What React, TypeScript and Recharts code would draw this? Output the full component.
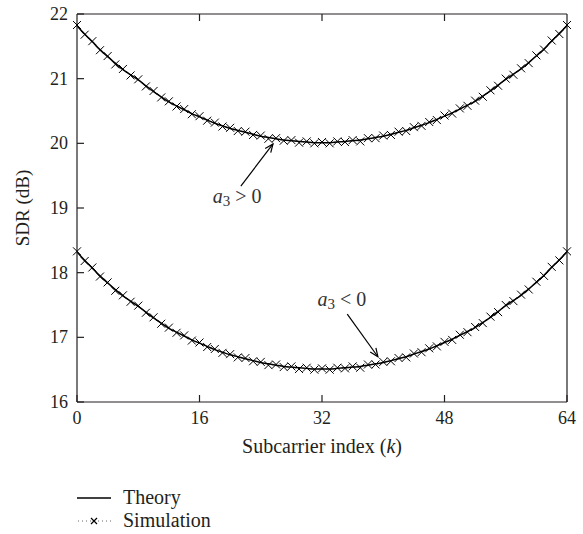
import React from "react";
import {
  Legend,
  Line,
  LineChart,
  ReferenceDot,
  ReferenceLine,
  XAxis,
  YAxis,
} from "recharts";

// subcarrier index k
const subcarriers = [
  0, 1, 2, 3, 4, 5, 6, 7, 8, 9, 10, 11, 12, 13, 14, 15, 16, 17, 18, 19, 20, 21,
  22, 23, 24, 25, 26, 27, 28, 29, 30, 31, 32, 33, 34, 35, 36, 37, 38, 39, 40, 41,
  42, 43, 44, 45, 46, 47, 48, 49, 50, 51, 52, 53, 54, 55, 56, 57, 58, 59, 60, 61,
  62, 63, 64,
];

// a3 > 0 curve
const upperTheory = [
  21.82, 21.69, 21.57, 21.45, 21.34, 21.24, 21.14, 21.06, 20.98, 20.89,
  20.8, 20.72, 20.64, 20.58, 20.52, 20.46, 20.41, 20.36, 20.31, 20.27,
  20.23, 20.2, 20.17, 20.14, 20.11, 20.09, 20.07, 20.05, 20.04, 20.03,
  20.02, 20.01, 20.01, 20.01, 20.02, 20.03, 20.04, 20.05, 20.07, 20.09,
  20.11, 20.14, 20.17, 20.2, 20.24, 20.28, 20.32, 20.37, 20.42, 20.47,
  20.53, 20.59, 20.65, 20.73, 20.81, 20.9, 20.99, 21.07, 21.15, 21.25,
  21.35, 21.46, 21.58, 21.7, 21.82,
];
const upperSim = [
  21.83, 21.68, 21.58, 21.44, 21.35, 21.22, 21.15, 21.05, 20.99, 20.88,
  20.81, 20.71, 20.65, 20.57, 20.53, 20.45, 20.42, 20.35, 20.32, 20.26,
  20.24, 20.19, 20.18, 20.13, 20.12, 20.07, 20.08, 20.04, 20.05, 20.01,
  20.03, 20.0, 20.02, 20.0, 20.03, 20.02, 20.05, 20.03, 20.08, 20.08,
  20.12, 20.13, 20.18, 20.19, 20.25, 20.27, 20.33, 20.36, 20.43, 20.46,
  20.54, 20.58, 20.66, 20.72, 20.82, 20.89, 21.0, 21.06, 21.16, 21.24,
  21.36, 21.45, 21.59, 21.69, 21.83,
];

// a3 < 0 curve
const lowerTheory = [
  18.32, 18.19, 18.07, 17.95, 17.84, 17.74, 17.64, 17.56, 17.48, 17.39,
  17.3, 17.22, 17.14, 17.08, 17.02, 16.96, 16.91, 16.86, 16.81, 16.77,
  16.73, 16.7, 16.67, 16.64, 16.61, 16.59, 16.57, 16.55, 16.54, 16.53,
  16.52, 16.51, 16.51, 16.51, 16.52, 16.53, 16.54, 16.55, 16.57, 16.59,
  16.61, 16.64, 16.67, 16.7, 16.74, 16.78, 16.82, 16.87, 16.92, 16.97,
  17.03, 17.09, 17.15, 17.23, 17.31, 17.4, 17.49, 17.57, 17.65, 17.75,
  17.85, 17.96, 18.08, 18.2, 18.32,
];
const lowerSim = [
  18.33, 18.18, 18.08, 17.94, 17.85, 17.72, 17.65, 17.55, 17.49, 17.38,
  17.31, 17.21, 17.15, 17.07, 17.03, 16.95, 16.92, 16.85, 16.82, 16.76,
  16.74, 16.69, 16.68, 16.63, 16.62, 16.57, 16.58, 16.54, 16.55, 16.51,
  16.53, 16.5, 16.52, 16.5, 16.53, 16.52, 16.55, 16.53, 16.58, 16.58,
  16.62, 16.63, 16.68, 16.69, 16.75, 16.77, 16.83, 16.86, 16.93, 16.96,
  17.04, 17.08, 17.16, 17.22, 17.32, 17.39, 17.5, 17.56, 17.66, 17.74,
  17.86, 17.95, 18.09, 18.19, 18.33,
];

const xTicks = [0, 16, 32, 48, 64];
const yTicks = [16, 17, 18, 19, 20, 21, 22];
const seriesNames = ["Theory", "Simulation"];

const chartData = subcarriers.map((k, i) => ({
  k,
  upperTheory: upperTheory[i],
  upperSim: upperSim[i],
  lowerTheory: lowerTheory[i],
  lowerSim: lowerSim[i],
}));

const FONT = "'Liberation Serif', 'DejaVu Serif', serif";
const INK = "#231f20";
const TICK_LEN = 7;

const BottomTick = (props: any) => {
  const { x, y, payload } = props;
  return (
    <g>
      <line x1={x} y1={y} x2={x} y2={y - TICK_LEN} stroke={INK} strokeWidth={1.2} />
      <text x={x} y={y + 22} textAnchor="middle" fontSize={18} fill={INK} fontFamily={FONT}>
        {payload.value}
      </text>
    </g>
  );
};

const TopTick = (props: any) => {
  const { x, y } = props;
  return <line x1={x} y1={y} x2={x} y2={y + TICK_LEN} stroke={INK} strokeWidth={1.2} />;
};

const LeftTick = (props: any) => {
  const { x, y, payload } = props;
  return (
    <g>
      <line x1={x} y1={y} x2={x + TICK_LEN} y2={y} stroke={INK} strokeWidth={1.2} />
      <text x={x - 9} y={y + 6} textAnchor="end" fontSize={18} fill={INK} fontFamily={FONT}>
        {payload.value}
      </text>
    </g>
  );
};

const RightTick = (props: any) => {
  const { x, y } = props;
  return <line x1={x} y1={y} x2={x - TICK_LEN} y2={y} stroke={INK} strokeWidth={1.2} />;
};

const CrossDot = (props: any) => {
  const { cx, cy, index } = props;
  if (cx == null || cy == null) return <g key={index} />;
  const s = 4;
  return (
    <path
      key={index}
      d={`M${cx - s},${cy - s}L${cx + s},${cy + s}M${cx - s},${cy + s}L${cx + s},${cy - s}`}
      stroke="#000"
      strokeWidth={1}
      fill="none"
    />
  );
};

const ArrowShape = (props: any) => {
  const { x1, y1, x2, y2 } = props;
  const ang = Math.atan2(y2 - y1, x2 - x1);
  const len = 9;
  const spread = 0.4;
  const ax = x2 - len * Math.cos(ang - spread);
  const ay = y2 - len * Math.sin(ang - spread);
  const bx = x2 - len * Math.cos(ang + spread);
  const by = y2 - len * Math.sin(ang + spread);
  return (
    <g>
      <line x1={x1} y1={y1} x2={x2} y2={y2} stroke="#000" strokeWidth={1.2} />
      <path d={`M${ax},${ay}L${x2},${y2}L${bx},${by}`} stroke="#000" strokeWidth={1.2} fill="none" />
    </g>
  );
};

const annotation = (sign: string) => (props: any) => {
  const { cx, cy } = props;
  return (
    <text x={cx} y={cy + 6} textAnchor="middle" fontSize={20} fill="#333" fontFamily={FONT}>
      <tspan fontStyle="italic">a</tspan>
      <tspan fontSize={15} dy={3}>3</tspan>
      <tspan dy={-3}>{` ${sign} 0`}</tspan>
    </text>
  );
};

const XTitle = (props: any) => {
  const { viewBox } = props;
  return (
    <text
      x={viewBox.x + viewBox.width / 2}
      y={viewBox.y + 51}
      textAnchor="middle"
      fontSize={20}
      fill={INK}
      fontFamily={FONT}
    >
      Subcarrier index (<tspan fontStyle="italic">k</tspan>)
    </text>
  );
};

const YTitle = (props: any) => {
  const { viewBox } = props;
  const cx = 22;
  const cy = viewBox.y + viewBox.height / 2;
  return (
    <text
      x={cx}
      y={cy}
      transform={`rotate(-90, ${cx}, ${cy})`}
      textAnchor="middle"
      dominantBaseline="central"
      fontSize={19}
      fill={INK}
      fontFamily={FONT}
    >
      SDR (dB)
    </text>
  );
};

const LegendBox = () => (
  <div style={{ fontFamily: FONT, fontSize: 20, color: INK, lineHeight: "23px" }}>
    <div style={{ display: "flex", alignItems: "center", height: 23 }}>
      <svg width={34} height={23}>
        <line x1={0} y1={12} x2={34} y2={12} stroke="#000" strokeWidth={1.3} />
      </svg>
      <span style={{ marginLeft: 12 }}>{seriesNames[0]}</span>
    </div>
    <div style={{ display: "flex", alignItems: "center", height: 23 }}>
      <svg width={34} height={23}>
        <line x1={1} y1={12} x2={34} y2={12} stroke="#666" strokeWidth={1.2} strokeDasharray="1 3" />
        <path d="M14,9L20,15M14,15L20,9" stroke="#000" strokeWidth={1.2} fill="none" />
      </svg>
      <span style={{ marginLeft: 12 }}>{seriesNames[1]}</span>
    </div>
  </div>
);

export default function App() {
  return (
    <div style={{ position: "absolute", left: 0, top: 0, background: "#fff" }}>
      <LineChart
        width={583}
        height={534}
        data={chartData}
        margin={{ top: 13, right: 15, left: 17, bottom: 82 }}
        style={{ fontFamily: FONT }}
      >
        <XAxis
          dataKey="k"
          type="number"
          domain={[0, 64]}
          ticks={xTicks}
          interval={0}
          height={50}
          tickSize={0}
          tickMargin={0}
          tickLine={false}
          tick={BottomTick}
          axisLine={{ stroke: INK, strokeWidth: 1.2 }}
          label={XTitle}
        />
        <XAxis
          xAxisId="top"
          orientation="top"
          dataKey="k"
          type="number"
          domain={[0, 64]}
          ticks={[16, 32, 48]}
          interval={0}
          height={1}
          tickSize={0}
          tickMargin={0}
          tickLine={false}
          tick={TopTick}
          axisLine={{ stroke: INK, strokeWidth: 1.2 }}
        />
        <YAxis
          type="number"
          domain={[16, 22]}
          ticks={yTicks}
          interval={0}
          width={60}
          tickSize={0}
          tickMargin={0}
          tickLine={false}
          tick={LeftTick}
          axisLine={{ stroke: INK, strokeWidth: 1.2 }}
          label={YTitle}
        />
        <YAxis
          yAxisId="right"
          orientation="right"
          type="number"
          domain={[16, 22]}
          ticks={[17, 18, 19, 20, 21]}
          interval={0}
          width={1}
          tickSize={0}
          tickMargin={0}
          tickLine={false}
          tick={RightTick}
          axisLine={{ stroke: INK, strokeWidth: 1.2 }}
        />

        <Line
          dataKey="upperSim"
          name="Simulation"
          stroke="#555"
          strokeWidth={1}
          strokeDasharray="1 3"
          dot={CrossDot}
          activeDot={false}
          isAnimationActive={false}
          legendType="none"
        />
        <Line
          dataKey="lowerSim"
          name="Simulation "
          stroke="#555"
          strokeWidth={1}
          strokeDasharray="1 3"
          dot={CrossDot}
          activeDot={false}
          isAnimationActive={false}
          legendType="none"
        />
        <Line
          dataKey="upperTheory"
          name="Theory"
          type="monotone"
          stroke="#000"
          strokeWidth={1.5}
          dot={false}
          activeDot={false}
          isAnimationActive={false}
        />
        <Line
          dataKey="lowerTheory"
          name="Theory "
          type="monotone"
          stroke="#000"
          strokeWidth={1.5}
          dot={false}
          activeDot={false}
          isAnimationActive={false}
        />

        <ReferenceLine
          segment={[
            { x: 21.4, y: 19.34 },
            { x: 25.6, y: 19.99 },
          ]}
          shape={ArrowShape}
        />
        <ReferenceLine
          segment={[
            { x: 35.3, y: 17.36 },
            { x: 39.3, y: 16.7 },
          ]}
          shape={ArrowShape}
        />
        <ReferenceDot x={20.9} y={19.17} r={0} shape={annotation(">")} />
        <ReferenceDot x={34.6} y={17.58} r={0} shape={annotation("<")} />

        <Legend
          layout="horizontal"
          verticalAlign="middle"
          align="center"
          wrapperStyle={{ left: 77, top: 486, width: 220, height: 48 }}
          content={LegendBox}
        />
      </LineChart>
    </div>
  );
}
